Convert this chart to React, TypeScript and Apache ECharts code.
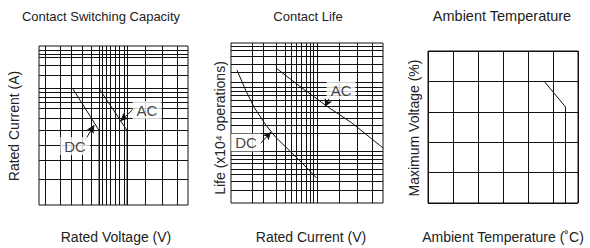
import React, { useEffect, useRef } from "react";
import * as echarts from "echarts";

// ---- texts ----
const TITLES = ["Contact Switching Capacity", "Contact Life", "Ambient Temperature"];
const X_NAMES = ["Rated Voltage (V)", "Rated Current (V)", "Ambient Temperature (˚C)"];
const Y_NAMES = ["Rated Current (A)", "Life (x10⁴ operations)", "Maximum Voltage (%)"];

// ---- panel 1: contact switching capacity (normalised log-paper units 0..100) ----
const CAP_X_GRID = [4, 14.1, 21.5, 28.9, 34.9, 40.3, 42.3, 45, 47.7, 51, 53.7, 57, 59.1, 71.1, 82.6, 92.6];
const CAP_Y_GRID = [16.4, 28.3, 37.4, 46.9, 54.4, 61, 64.8, 67.9, 71.1, 73.3, 81.8, 88.1, 93.1, 95, 97.5];
const CAP_DC = [[22.6, 73.3], [40.3, 46.9], [40.3, 0]];
const CAP_AC = [[40.3, 73.3], [59.1, 46.9], [59.1, 0]];
const CAP_LABELS = ["DC", "AC"];
const CAP_LABEL_AT = [[24.2, 37.1], [72.5, 59.7]];
const CAP_ARROWS = [[31, 40.9], [64, 61]];
const CAP_ARROW_TIPS = [[37.1, 50.3], [54.7, 52.8]];

// ---- panel 2: contact life ----
const LIFE_X_GRID = [14.1, 21.1, 29.6, 35.5, 39.8, 43.1, 46.1, 49.3, 52, 53.9, 56.6, 71.1, 83.2, 92.8];
const LIFE_Y_GRID = [8.1, 13.4, 17.7, 21.3, 24.7, 27.5, 30, 32.5, 43.8, 48.8, 53.1, 56.9, 60.6, 64.1, 67.2, 70, 72.2, 75.3, 81.9, 86.9, 91.6, 95.3, 97.8];
const LIFE_DC = [[3.9, 83.1], [9.9, 70], [15.1, 60], [22.4, 49.4], [29.6, 40.9], [41.4, 30], [48.7, 23.1], [56.3, 15.6]];
const LIFE_AC = [[29.6, 84.4], [46.7, 71.9], [63.8, 60], [79.6, 50], [100, 34.4]];
const LIFE_LABELS = ["DC", "AC"];
const LIFE_LABEL_AT = [[9.9, 37.8], [72.4, 70.6]];
const LIFE_ARROWS = [[19.1, 36.9], [65.1, 66.4]];
const LIFE_ARROW_TIPS = [[26.3, 44.4], [61.8, 60]];

// ---- panel 3: ambient temperature ----
const TEMP_MIN = -40, TEMP_MAX = 80, TEMP_STEP = 20;
const VOLT_MIN = 0, VOLT_MAX = 250, VOLT_STEP = 50;
const TEMP_CURVE = [[53, 200], [70, 158], [70, 0]];

const FONT = '"Liberation Sans", Arial, Helvetica, sans-serif';
const INK = "#111";

function gridMarks(xs: number[], ys: number[]) {
  return {
    silent: true,
    symbol: ["none", "none"],
    label: { show: false },
    emphasis: { disabled: true },
    lineStyle: { color: INK, width: 1, type: "solid" },
    data: [...xs.map((v) => ({ xAxis: v })), ...ys.map((v) => ({ yAxis: v }))],
  };
}

function curve(idx: number, data: number[][], marks?: any) {
  const s: any = {
    type: "line",
    xAxisIndex: idx,
    yAxisIndex: idx,
    data,
    showSymbol: false,
    symbol: "none",
    lineStyle: { color: INK, width: 1 },
    emphasis: { disabled: true },
    z: 3,
  };
  if (marks) s.markLine = marks;
  return s;
}

function labels(idx: number, names: string[], at: number[][], from: number[][], tips: number[][]) {
  return {
    type: "scatter",
    xAxisIndex: idx,
    yAxisIndex: idx,
    z: 5,
    symbolSize: 1,
    itemStyle: { color: "rgba(0,0,0,0)" },
    emphasis: { disabled: true },
    data: names.map((n, i) => ({ name: n, value: at[i] })),
    label: {
      show: true,
      position: "inside",
      formatter: "{b}",
      fontFamily: FONT,
      fontSize: 15,
      color: "#111",
      backgroundColor: "#fff",
      padding: [2, 4, 1, 4],
    },
    markLine: {
      silent: true,
      symbol: ["none", "arrow"],
      symbolSize: [6, 8],
      label: { show: false },
      emphasis: { disabled: true },
      lineStyle: { color: INK, width: 1, type: "solid" },
      data: from.map((f, i) => [{ coord: f }, { coord: tips[i] }]),
    },
  };
}

const hiddenAxis = (idx: number) => ({
  type: "value",
  gridIndex: idx,
  min: 0,
  max: 100,
  axisLine: { show: false },
  axisTick: { show: false },
  axisLabel: { show: false },
  splitLine: { show: false },
});

export default function App() {
  const ref = useRef<HTMLDivElement>(null);
  useEffect(() => {
    if (!ref.current) return;
    const chart = echarts.init(ref.current, null, { renderer: "svg" });
    const textStyle = (size: number) => ({ font: `${size}px ${FONT}`, fill: "#222", textAlign: "center", textVerticalAlign: "middle" });
    const titleX = [101, 308, 502];
    const titleSize = [13, 13, 14.5];
    const xNameX = [116, 311, 503];
    const yNameX = [14, 220, 414];
    const yNameY = [126, 128, 128];
    const graphic: any[] = [];
    TITLES.forEach((t, i) => graphic.push({ type: "text", x: titleX[i], y: 16, style: { text: t, ...textStyle(titleSize[i]) } }));
    X_NAMES.forEach((t, i) => graphic.push({ type: "text", x: xNameX[i], y: 237, style: { text: t, ...textStyle(14) } }));
    Y_NAMES.forEach((t, i) =>
      graphic.push({ type: "text", x: yNameX[i], y: yNameY[i], rotation: Math.PI / 2, style: { text: t, ...textStyle(14) } })
    );

    chart.setOption({
      animation: false,
      backgroundColor: "#fff",
      grid: [
        { left: 39, top: 46, width: 149, height: 159, show: true, borderColor: INK, borderWidth: 1, backgroundColor: "transparent" },
        { left: 231, top: 43, width: 152, height: 160, show: true, borderColor: INK, borderWidth: 1, backgroundColor: "transparent" },
        { left: 428, top: 51, width: 150, height: 152, show: true, borderColor: INK, borderWidth: 1, backgroundColor: "transparent" },
      ],
      xAxis: [
        hiddenAxis(0),
        hiddenAxis(1),
        {
          type: "value",
          gridIndex: 2,
          min: TEMP_MIN,
          max: TEMP_MAX,
          interval: TEMP_STEP,
          axisLine: { show: false },
          axisTick: { show: false },
          axisLabel: { show: false },
          splitLine: { show: true, lineStyle: { color: INK, width: 1 } },
        },
      ],
      yAxis: [
        hiddenAxis(0),
        hiddenAxis(1),
        {
          type: "value",
          gridIndex: 2,
          min: VOLT_MIN,
          max: VOLT_MAX,
          interval: VOLT_STEP,
          axisLine: { show: false },
          axisTick: { show: false },
          axisLabel: { show: false },
          splitLine: { show: true, lineStyle: { color: INK, width: 1 } },
        },
      ],
      series: [
        curve(0, CAP_DC, gridMarks(CAP_X_GRID, CAP_Y_GRID)),
        curve(0, CAP_AC),
        labels(0, CAP_LABELS, CAP_LABEL_AT, CAP_ARROWS, CAP_ARROW_TIPS),
        curve(1, LIFE_DC, gridMarks(LIFE_X_GRID, LIFE_Y_GRID)),
        curve(1, LIFE_AC),
        labels(1, LIFE_LABELS, LIFE_LABEL_AT, LIFE_ARROWS, LIFE_ARROW_TIPS),
        curve(2, TEMP_CURVE),
      ],
      graphic,
    });
    return () => chart.dispose();
  }, []);
  return <div ref={ref} style={{ position: "fixed", left: 0, top: 0, width: 590, height: 248 }} />;
}
